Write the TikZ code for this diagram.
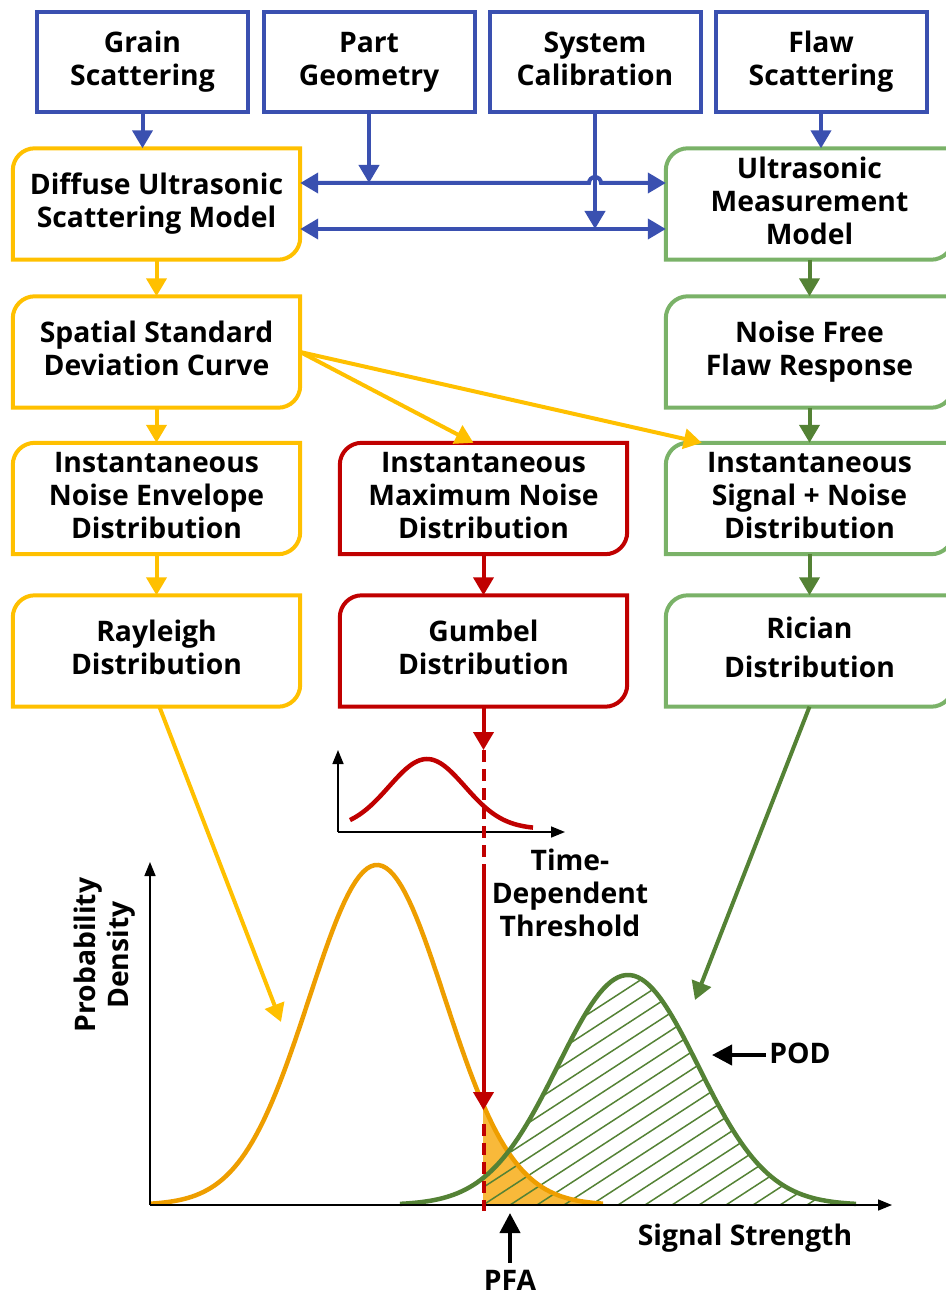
\documentclass[tikz,border=0pt]{standalone}
\usepackage{fontspec}
\setmainfont{Open Sans}
\usepackage{tikz}
\usetikzlibrary{arrows.meta}

\definecolor{inblue}{RGB}{58,80,176}
\definecolor{boxyellow}{RGB}{255,192,0}
\definecolor{boxgreen}{RGB}{122,178,104}
\definecolor{flowgreen}{RGB}{84,130,53}
\definecolor{boxred}{RGB}{192,0,0}
\definecolor{curveorange}{RGB}{238,158,0}
\definecolor{fillorange}{RGB}{248,185,58}

\begin{document}
\begin{tikzpicture}[x=1pt, y=1pt]

\tikzstyle{every node} = [font=\fontsize{28.3}{33}\selectfont\bfseries, align=center,
  execute at begin node={\rule[-7pt]{0pt}{31pt}}, execute at end node={\rule[-7pt]{0pt}{31pt}}]
\tikzstyle{input} = [draw=inblue, line width=4pt, minimum width=211pt, minimum height=100pt]
\tikzstyle{model} = [minimum width=287pt, minimum height=111pt]
\tikzstyle{bigtip} = [-{Triangle[width=20pt,length=18pt]}]
\tikzstyle{blueflow} = [inblue, line width=4pt, bigtip]
\tikzstyle{blueboth} = [inblue, line width=4pt, {Triangle[width=20pt,length=18pt]}-{Triangle[width=20pt,length=18pt]}]
\tikzstyle{axis} = [black, line width=1.6pt, -{Triangle[width=11pt,length=14pt]}]
\tikzstyle{curve} = [line width=4.5pt]

\useasboundingbox (0,0) rectangle (945,-1297);

% inputs
\node[input] (grain) at (142.5,-62) {Grain\\Scattering};
\node[input] (part) at (369,-62) {Part\\Geometry};
\node[input] (calib) at (595,-62) {System\\Calibration};
\node[input] (flaw) at (821,-62) {Flaw\\Scattering};

% models
\node[model] (dusm) at (156.5,-204) {Diffuse Ultrasonic\\Scattering Model};
\node[model] (umm) at (809.5,-204) {Ultrasonic\\Measurement\\Model};
\node[model] (sdc) at (156.5,-352) {Spatial Standard\\Deviation Curve};
\node[model] (nffr) at (809.5,-352) {Noise Free\\Flaw Response};
\node[model] (ine) at (156.5,-498.5) {Instantaneous\\Noise Envelope\\Distribution};
\node[model] (imn) at (483.5,-498.5) {Instantaneous\\Maximum Noise\\Distribution};
\node[model] (isn) at (809.5,-498.5) {Instantaneous\\Signal + Noise\\Distribution};
\node[model] (ray) at (156.5,-651) {Rayleigh\\Distribution};
\node[model] (gum) at (483.5,-651) {Gumbel\\Distribution};
\node[model] (ric) at (809.5,-651) {Rician\\[6pt]Distribution};

\foreach \n/\c in {dusm/boxyellow, sdc/boxyellow, ine/boxyellow, ray/boxyellow,
                   imn/boxred, gum/boxred,
                   umm/boxgreen, nffr/boxgreen, isn/boxgreen, ric/boxgreen}
  \draw[\c, line width=4pt] ([yshift=-22pt]\n.north west) arc[start angle=180, end angle=90, radius=22pt]
    -- (\n.north east) -- ([yshift=22pt]\n.south east) arc[start angle=0, end angle=-90, radius=22pt]
    -- (\n.south west) -- cycle;

% blue connectors
\coordinate (up) at ([yshift=21pt]dusm.east);
\coordinate (lo) at ([yshift=-25pt]dusm.east);
\draw[blueflow] (grain.south) -- (grain.south |- dusm.north);
\draw[blueflow] (flaw.south) -- (flaw.south |- umm.north);
\draw[blueboth] (up) -- ([xshift=-6pt]calib.south |- up) arc[start angle=180, end angle=0, radius=6pt] -- (up -| umm.west);
\draw[blueboth] (lo) -- (lo -| umm.west);
\draw[blueflow] (part.south) -- (part.south |- up);
\draw[blueflow] (calib.south) -- (calib.south |- lo);

% yellow, green, red connectors
\draw[boxyellow, line width=4pt, bigtip] (dusm) -- (sdc);
\draw[boxyellow, line width=4pt, bigtip] (sdc) -- (ine);
\draw[boxyellow, line width=4pt, bigtip] (ine) -- (ray);
\draw[boxyellow, line width=4pt, bigtip] (sdc.east) -- ([xshift=-10pt]imn.north);
\draw[boxyellow, line width=4pt, bigtip] (sdc.east) -- ([xshift=36pt]isn.north west);
\draw[flowgreen, line width=4pt, bigtip] (umm) -- (nffr);
\draw[flowgreen, line width=4pt, bigtip] (nffr) -- (isn);
\draw[flowgreen, line width=4pt, bigtip] (isn) -- (ric);
\draw[boxred, line width=4pt, bigtip] (imn) -- (gum);

% main plot
\coordinate (o) at (150,-1205);
\coordinate (ytop) at (150,-862);
\coordinate (xend) at (892,-1205);
\coordinate (ray tip) at (281,-1022);
\coordinate (ric tip) at (695,-1000);

\fill[fillorange] (483,-1205) -- plot[domain=483:603, samples=60] (\x, {-1205+340*exp(-0.5*((\x-377)/68)^2)}) -- (603,-1205) -- cycle;
\begin{scope}
  \clip (483,-1205) -- plot[domain=483:856, samples=100] (\x, {-1205+230*exp(-0.5*((\x-628)/70)^2)}) -- (856,-1205) -- cycle;
  \foreach \k in {-12,...,14}
    \draw[flowgreen, line width=1.5pt] (483+27*\k,-1205) -- ++(33:420);
\end{scope}
\draw[curveorange, curve] plot[domain=150:603, samples=120] (\x, {-1205+340*exp(-0.5*((\x-377)/68)^2)});
\draw[flowgreen, curve] plot[domain=400:856, samples=120] (\x, {-1205+230*exp(-0.5*((\x-628)/70)^2)});
\draw[axis] (o) -- (ytop);
\draw[axis] (o) -- (xend);

\node[rotate=90] (pd) at (105,-955) {Probability\\Density};
\node (ss) at (745,-1237) {Signal Strength};
\node (pfa) at (510,-1282) {PFA};
\node (pod) at (800,-1055) {POD};
\draw[black, line width=4pt, -{Triangle[width=20pt,length=20pt]}] (pfa.north) -- (510,-1213);
\draw[black, line width=4pt, -{Triangle[width=20pt,length=20pt]}] (pod.west) -- (712,-1055);

\draw[boxyellow, line width=4pt, bigtip] (ray) ++(3,-56) -- (ray tip);
\draw[flowgreen, line width=4pt, bigtip] (ric.south) -- (ric tip);

% inset plot
\coordinate (io) at (338,-832);
\draw[axis] (io) -- (338,-750);
\draw[axis] (io) -- (565,-832);
\draw[boxred, curve] plot[domain=350:533, samples=80] (\x, {-829+70*exp(-0.5*((\x-427)/38)^2)});

% threshold
\node (thr) at (570,-896) {Time-\\Dependent\\Threshold};
\coordinate (thr top) at (483.5,-750);
\coordinate (thr mid) at (483.5,-864);
\coordinate (thr hit) at (483.5,-1110);
\coordinate (thr low) at (483.5,-1211);
\draw[boxred, line width=4pt, bigtip] (gum.south) -- (thr top);
\draw[boxred, line width=4pt, dash pattern=on 12pt off 7pt] (thr top) -- (thr mid);
\draw[boxred, line width=4pt, bigtip] (thr mid) -- (thr hit);
\draw[boxred, line width=4pt, dash pattern=on 12pt off 7pt] (thr hit) ++(0,-14) -- (thr low);

\end{tikzpicture}
\end{document}
